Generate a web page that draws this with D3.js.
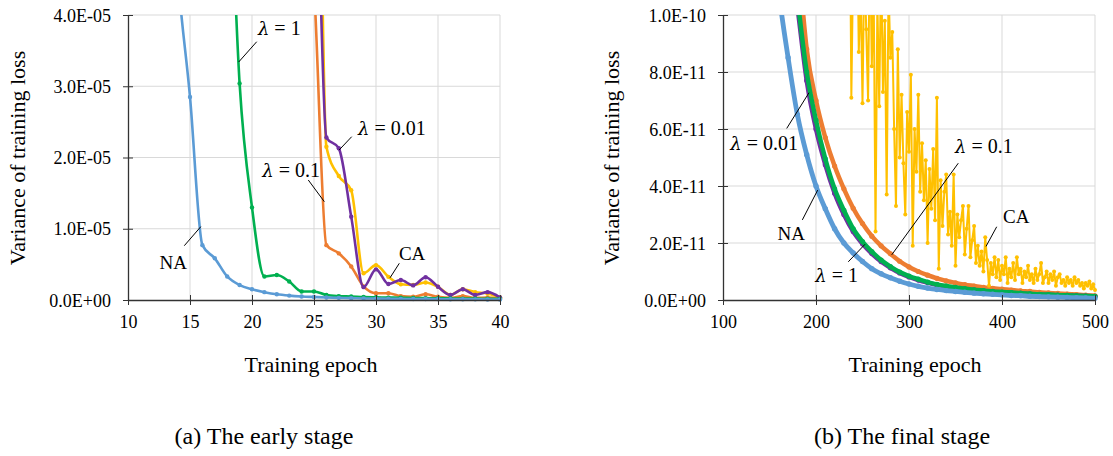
<!DOCTYPE html>
<html><head><meta charset="utf-8">
<script src="https://cdn.jsdelivr.net/npm/d3@7"></script>
<style>
body{margin:0;background:#fff;}
svg{display:block;}
svg text{font-family:"Liberation Serif","Times New Roman",serif;}
</style></head><body>
<svg id="chart" width="1113" height="456" font-family="Liberation Serif, Times New Roman, serif"></svg>
<script>
// ---------- DATA ----------
// (a) early stage: epochs 10..40, values in units of 1e-6
const earlyEpochs = [10,11,12,13,14,15,16,17,18,19,20,21,22,23,24,25,26,27,28,29,30,31,32,33,34,35,36,37,38,39,40];
const earlyNA   = [220,160,110,75,46,28.5,7.7,5.85,3.3,2.1,1.5,1.1,0.8,0.62,0.5,0.42,0.35,0.3,0.26,0.22,0.2,0.18,0.16,0.14,0.13,0.12,0.11,0.1,0.09,0.08,0.07];
const earlyL1   = [600,500,400,320,250,190,140,100,70,30.4,13.0,3.3,3.5,2.6,1.2,1.2,0.7,0.55,0.5,0.42,0.38,0.34,0.31,0.28,0.26,0.24,0.22,0.2,0.19,0.18,0.16];
const earlyL01  = [900,800,700,600,500,420,350,290,240,200,165,135,110,85,62,44,7.7,6.55,4.7,1.9,0.95,0.95,0.55,0.45,0.8,0.45,0.3,0.55,0.3,0.35,0.2];
const earlyL001 = [950,850,750,650,560,480,400,330,270,220,180,150,125,105,90,75,22.8,21.3,11.7,1.8,4.3,2.25,2.8,2.05,3.2,1.85,0.7,1.5,0.7,1.1,0.35];
const earlyCA   = [1000,900,800,700,600,520,450,380,320,270,230,195,165,140,125,110,21.5,17.4,15.4,3.75,4.9,3.25,2.2,2.1,2.45,1.85,0.7,1.5,1.1,0.9,0.35];
const earlyXTicks = [10,15,20,25,30,35,40];
const earlyYTicks = [0,10,20,30,40];
const earlyYLabels = ["0.0E+00","1.0E-05","2.0E-05","3.0E-05","4.0E-05"];

// (b) final stage: values in units of 1e-11
const finalEpochs = [100,110,120,130,140,150,160,170,180,190,200,210,220,230,240,250,260,270,280,290,300,310,320,330,340,350,360,370,380,390,400,410,420,430,440,450,460,470,480,490,500];
const finalNA   = [45,36,28,22,17.5,14,10.8,8.5,6.5,5.1,4.0,3.2,2.5,2.0,1.65,1.35,1.1,0.92,0.78,0.66,0.56,0.48,0.42,0.37,0.33,0.3,0.27,0.24,0.22,0.2,0.18,0.16,0.15,0.13,0.12,0.11,0.1,0.09,0.08,0.07,0.06];
const finalL1   = [80,62,48,37,28.5,22,17,13.3,10.6,8.0,6.3,4.95,3.9,3.15,2.5,2.05,1.7,1.4,1.17,0.98,0.84,0.73,0.63,0.55,0.49,0.44,0.4,0.36,0.33,0.3,0.28,0.26,0.24,0.22,0.2,0.19,0.17,0.16,0.15,0.14,0.13];
const finalL01  = [95,75,58,45,35,27,21,16.5,12.4,8.8,7.0,5.7,4.7,3.9,3.22,2.68,2.24,1.9,1.62,1.36,1.16,1.0,0.87,0.76,0.67,0.6,0.54,0.49,0.44,0.41,0.38,0.35,0.32,0.3,0.27,0.25,0.23,0.21,0.19,0.17,0.15];
const finalL001 = [78,60,46.5,36,27.5,21.2,16.4,12.8,10.3,7.7,6.0,4.75,3.75,3.0,2.4,1.97,1.63,1.35,1.13,0.95,0.81,0.7,0.61,0.53,0.47,0.42,0.38,0.35,0.32,0.29,0.27,0.25,0.23,0.21,0.19,0.18,0.17,0.16,0.15,0.14,0.13];
const finalCAEpochs = d3.range(230, 501, 2);
const finalCA = [
 15,18,13,16,7.1,12,10.5,14,8.7,11,
 6.9,12,9.5,7.0,13,8.2,11,2.4,10.5,6.8,
 12,7.3,9.8,3.7,11,8.5,9.4,6.0,3.3,8.8,
 5.0,7.2,4.8,3.0,6.6,5.2,7.9,1.9,6.0,4.5,
 7.2,3.8,5.5,3.5,4.9,2.0,4.6,3.2,5.3,2.8,
 7.1,1.1,4.2,2.6,3.8,4.4,2.3,3.1,1.9,4.4,
 1.2,3.0,2.2,2.8,3.3,1.6,2.5,3.3,1.5,2.1,
 2.6,1.3,1.9,1.2,1.7,1.0,2.2,1.4,0.5,1.3,
 0.9,1.5,0.8,1.4,0.7,1.2,0.9,1.5,0.6,1.1,
 0.8,1.3,0.7,1.5,0.9,1.1,0.6,1.0,0.8,1.2,
 0.7,0.9,0.6,1.1,0.7,0.9,1.3,0.6,0.8,1.0,
 0.6,0.9,0.7,1.0,0.5,0.8,0.9,0.6,0.7,0.5,
 0.8,0.6,0.7,0.5,0.8,0.6,0.7,0.5,0.6,0.4,
 0.6,0.5,0.65,0.4,0.55,0.35];
const finalXTicks = [100,200,300,400,500];
const finalYTicks = [0,2,4,6,8,10];
const finalYLabels = ["0.0E+00","2.0E-11","4.0E-11","6.0E-11","8.0E-11","1.0E-10"];

const colors = {NA:"#5B9BD5", L1:"#00B050", L01:"#ED7D31", L001:"#7030A0", CA:"#FFC000"};
const SERIF = "'Liberation Serif','Times New Roman',serif";

// ---------- DRAW ----------
const svg = d3.select("#chart");
const TOP = 15, BOTTOM = 300;

function interp(xs, vs, e){
  for(let i=0;i<xs.length-1;i++){
    if(e>=xs[i] && e<=xs[i+1]){
      const t=(e-xs[i])/(xs[i+1]-xs[i]);
      return vs[i]+(vs[i+1]-vs[i])*t;
    }
  }
  return vs[vs.length-1];
}
// point on a series: either at a given epoch, or where it crosses a value near an epoch
function anchorPoint(s, n){
  if(n.val===undefined) return [n.epoch, interp(s.x, s.v, n.epoch)];
  let best=null, bd=Infinity;
  for(let i=0;i<s.x.length-1;i++){
    const a=s.v[i], b=s.v[i+1];
    if((a-n.val)*(b-n.val)<=0 && a!==b){
      const e = s.x[i] + (n.val-a)/(b-a)*(s.x[i+1]-s.x[i]);
      const d = Math.abs(e-n.epoch);
      if(d<bd){bd=d; best=[e,n.val];}
    }
  }
  return best || [n.epoch, interp(s.x, s.v, n.epoch)];
}

function panel(cfg){
  const g = svg.append("g").attr("font-family",SERIF);
  const x = d3.scaleLinear().domain(cfg.xDomain).range([cfg.x0, cfg.x1]);
  const y = d3.scaleLinear().domain(cfg.yDomain).range([BOTTOM, TOP]);

  // grid
  g.append("g").selectAll("line").data(cfg.yTicks.filter(d=>d>cfg.yDomain[0])).join("line")
    .attr("x1",cfg.x0).attr("x2",cfg.x1).attr("y1",d=>y(d)).attr("y2",d=>y(d))
    .attr("stroke","#d9d9d9").attr("stroke-width",1);
  g.append("g").selectAll("line").data(cfg.xTicks.filter(d=>d>cfg.xDomain[0])).join("line")
    .attr("x1",d=>x(d)).attr("x2",d=>x(d)).attr("y1",TOP).attr("y2",BOTTOM)
    .attr("stroke","#d9d9d9").attr("stroke-width",1);

  const cid = "clip-"+cfg.name;
  svg.append("clipPath").attr("id",cid).append("rect")
    .attr("x",cfg.x0-3).attr("y",TOP).attr("width",cfg.x1-cfg.x0+7).attr("height",BOTTOM-TOP+6);
  const plot = g.append("g").attr("clip-path",`url(#${cid})`);

  cfg.series.forEach(s=>{
    const pts = s.x.map((e,i)=>[e,s.v[i]]);
    plot.append("path").datum(pts)
      .attr("d", d3.line().x(d=>x(d[0])).y(d=>y(d[1])).curve(s.curve||d3.curveMonotoneX))
      .attr("fill","none").attr("stroke",s.color).attr("stroke-width",s.sw)
      .attr("stroke-linejoin","round");
    plot.append("g").selectAll("circle").data(pts).join("circle")
      .attr("cx",d=>x(d[0])).attr("cy",d=>y(d[1])).attr("r",s.r).attr("fill",s.color);
  });

  // axes
  const xa = g.append("g").attr("transform",`translate(0,${BOTTOM})`)
    .call(d3.axisBottom(x).tickValues(cfg.xTicks).tickSizeOuter(0).tickSizeInner(5));
  xa.selectAll(".tick line").attr("y1",-5).attr("y2",5).attr("stroke","#333");
  xa.selectAll(".tick text").attr("y",28).attr("dy",0).attr("fill","#000");
  xa.select(".domain").attr("stroke","#333").attr("stroke-width",1.3);
  xa.attr("font-family",SERIF).attr("font-size",18);

  const ya = g.append("g").attr("transform",`translate(${cfg.x0},0)`)
    .call(d3.axisLeft(y).tickValues(cfg.yTicks).tickFormat((d,i)=>cfg.yLabels[i]).tickSizeOuter(0));
  ya.selectAll(".tick line").attr("x1",-5).attr("x2",5).attr("stroke","#333");
  ya.selectAll(".tick text").attr("x",-17).attr("dy","0.34em").attr("fill","#000");
  ya.select(".domain").attr("stroke","#333").attr("stroke-width",1.3);
  ya.attr("font-family",SERIF).attr("font-size",18);

  // titles
  g.append("text").attr("transform",`translate(${cfg.yTitleX},158) rotate(-90)`)
    .attr("text-anchor","middle").attr("font-size",22).text("Variance of training loss");
  g.append("text").attr("x",cfg.xTitleX).attr("y",372).attr("text-anchor","middle")
    .attr("font-size",22).text("Training epoch");
  g.append("text").attr("x",cfg.capX).attr("y",444).attr("text-anchor","middle")
    .attr("font-size",24).text(cfg.caption);

  // annotations
  cfg.notes.forEach(n=>{
    const s = cfg.series.find(q=>q.key===n.key);
    const p = anchorPoint(s, n);
    g.append("line").attr("x1",x(n.start[0])).attr("y1",y(n.start[1]))
      .attr("x2",x(p[0])).attr("y2",y(p[1])).attr("stroke","#000").attr("stroke-width",1);
    const t = g.append("text").attr("x",x(n.text[0])).attr("y",y(n.text[1]))
      .attr("text-anchor",n.anchor).attr("font-size",n.lam?20:19);
    if(n.lam){
      t.append("tspan").attr("font-style","italic").attr("font-family","'DejaVu Serif','Liberation Serif',serif").attr("font-size",18).text("λ");
      t.append("tspan").text(" = "+n.lam);
    } else t.text(n.label);
  });
}

panel({
  name:"early", x0:128, x1:500, xDomain:[10,40], yDomain:[0,40],
  xTicks:earlyXTicks, yTicks:earlyYTicks, yLabels:earlyYLabels,
  yTitleX:25, xTitleX:311, capX:264, caption:"(a) The early stage",
  series:[
    {key:"L01", x:earlyEpochs, v:earlyL01, color:colors.L01, sw:2.6, r:2.2},
    {key:"CA", x:earlyEpochs, v:earlyCA, color:colors.CA, sw:2.6, r:2.2},
    {key:"L001", x:earlyEpochs, v:earlyL001, color:colors.L001, sw:2.6, r:2.2},
    {key:"L1", x:earlyEpochs, v:earlyL1, color:colors.L1, sw:2.6, r:2.2},
    {key:"NA", x:earlyEpochs, v:earlyNA, color:colors.NA, sw:2.6, r:2.2}
  ],
  notes:[
    {key:"L1", epoch:19, val:33.4, start:[20.38,36.25], text:[20.48,37.19], anchor:"start", lam:"1"},
    {key:"L001", epoch:27, val:21.05, start:[28.04,22.92], text:[28.55,23.16], anchor:"start", lam:"0.01"},
    {key:"L01", epoch:25.8, val:13.8, start:[24.54,16.84], text:[25.48,17.26], anchor:"end", lam:"0.1"},
    {key:"CA", epoch:31.13, start:[31.88,5.15], text:[31.85,5.61], anchor:"start", label:"CA"},
    {key:"NA", epoch:15.8, val:10.3, start:[14.54,7.62], text:[14.76,4.35], anchor:"end", label:"NA"}
  ]
});

panel({
  name:"final", x0:723, x1:1095, xDomain:[100,500], yDomain:[0,10],
  xTicks:finalXTicks, yTicks:finalYTicks, yLabels:finalYLabels,
  yTitleX:619, xTitleX:915, capX:902, caption:"(b) The final stage",
  series:[
    {key:"L01", x:finalEpochs, v:finalL01, color:colors.L01, sw:4.5, r:2.6},
    {key:"CA", x:finalCAEpochs, v:finalCA, color:colors.CA, sw:2, r:2, curve:d3.curveLinear},
    {key:"L001", x:finalEpochs, v:finalL001, color:colors.L001, sw:4.5, r:2.6},
    {key:"L1", x:finalEpochs, v:finalL1, color:colors.L1, sw:4.5, r:2.6},
    {key:"NA", x:finalEpochs, v:finalNA, color:colors.NA, sw:4.8, r:2.7}
  ],
  notes:[
    {key:"L001", epoch:192.5, start:[168.5,6.02], text:[180.6,5.26], anchor:"end", lam:"0.01"},
    {key:"NA", epoch:201.8, start:[185.3,2.81], text:[188.2,2.11], anchor:"end", label:"NA"},
    {key:"L01", epoch:281.4, start:[353,4.8], text:[349.5,5.16], anchor:"start", lam:"0.1"},
    {key:"L1", epoch:252.7, start:[234.7,1.34], text:[245.2,0.63], anchor:"end", lam:"1"},
    {key:"CA", epoch:382.8, start:[394.3,2.57], text:[401.1,2.70], anchor:"start", label:"CA"}
  ]
});
</script>
</body></html>
